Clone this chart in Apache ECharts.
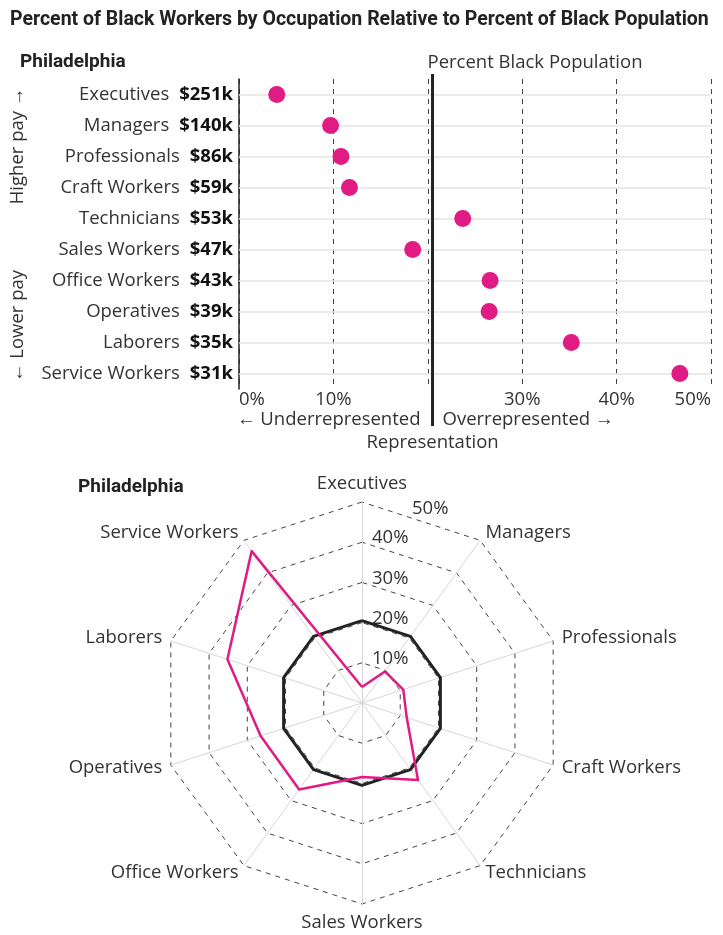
<!DOCTYPE html>
<html>
<head>
<meta charset="utf-8">
<script src="https://cdn.jsdelivr.net/npm/echarts@6/dist/echarts.min.js"></script>
<style>
  html, body { margin: 0; padding: 0; background: #fff; }
  #chart { width: 723px; height: 935px; }
</style>
</head>
<body>
<div id="chart"></div>
<script>
// Philadelphia occupations, highest pay first
const occupations = ['Executives', 'Managers', 'Professionals', 'Craft Workers', 'Technicians',
    'Sales Workers', 'Office Workers', 'Operatives', 'Laborers', 'Service Workers'];
const salaries = ['$251k', '$140k', '$86k', '$59k', '$53k', '$47k', '$43k', '$39k', '$35k', '$31k'];
const blackShare = [4.0, 9.7, 10.8, 11.7, 23.7, 18.4, 26.6, 26.5, 35.2, 46.7];
const popShare = 20.5;
const pctTicks = [0, 10, 20, 30, 40, 50];

const PINK = '#e01b84';
const TEXT = '#333';
const FONT = "'Open Sans', sans-serif";
const BOLD = "'Roboto', sans-serif";
const FS = 18.5;

const chart = echarts.init(document.getElementById('chart'));

// radar goes counter-clockwise, so feed it in reverse after the first one
const radarOrder = [0].concat(occupations.map((_, i) => i).slice(1).reverse());

const option = {
    animation: false,
    textStyle: { fontFamily: FONT },
    title: [
        {
            text: 'Percent of Black Workers by Occupation Relative to Percent of Black Population',
            left: 5, top: 5,
            textStyle: { fontFamily: BOLD, fontWeight: 'bold', fontSize: 19.5, color: '#222' }
        },
        {
            text: 'Philadelphia', left: 15, top: 48,
            textStyle: { fontFamily: BOLD, fontWeight: 'bold', fontSize: 19, color: '#222' }
        },
        {
            text: 'Philadelphia', left: 73, top: 473,
            textStyle: { fontFamily: BOLD, fontWeight: 'bold', fontSize: 19, color: '#222' }
        }
    ],
    grid: { left: 239, top: 79, width: 472, height: 310 },
    xAxis: {
        type: 'value',
        min: pctTicks[0], max: pctTicks[pctTicks.length - 1], interval: 10,
        axisLine: { show: false },
        axisTick: { show: false },
        splitLine: { show: true, lineStyle: { color: '#444', type: [5, 5], width: 1 } },
        axisLabel: {
            color: TEXT, fontSize: FS, margin: 1,
            alignMinLabel: 'left', alignMaxLabel: 'right',
            formatter: v => (v === 20 ? '' : v + '%')
        }
    },
    yAxis: {
        type: 'category',
        data: occupations,
        inverse: true,
        axisLine: { show: true, lineStyle: { color: '#222', width: 1.5 } },
        axisTick: { show: false },
        splitLine: { show: false },
        axisLabel: {
            margin: 6,
            formatter: (v, i) => '{n|' + v + '}{s|' + salaries[i] + '}',
            rich: {
                n: { color: TEXT, fontSize: FS, fontFamily: FONT, padding: [0, 10, 0, 0] },
                s: { color: '#111', fontSize: FS, fontWeight: 'bold', fontFamily: FONT }
            }
        }
    },
    radar: {
        center: [362, 703],
        radius: 201,
        startAngle: 90,
        shape: 'polygon',
        splitNumber: 5,
        indicator: radarOrder.map(i => ({ name: occupations[i], min: 0, max: 50 })),
        axisName: { color: TEXT, fontSize: FS, fontFamily: FONT },
        nameGap: 9,
        axisLine: { lineStyle: { color: '#d6d6d6', width: 1 } },
        splitLine: { lineStyle: { color: '#444', type: [5, 5], width: 1 } },
        splitArea: { show: false }
    },
    polar: { center: [362, 703], radius: 201 },
    angleAxis: {
        startAngle: 90, min: 0, max: 360,
        axisLine: { show: false }, axisTick: { show: false },
        axisLabel: { show: false }, splitLine: { show: false }
    },
    radiusAxis: {
        min: 0, max: 50, interval: 10,
        axisLine: { show: false }, axisTick: { show: false },
        splitLine: { show: false },
        axisLabel: {
            color: TEXT, fontSize: FS,
            align: 'left', margin: -10,
            padding: [0, 0, 8, 0],
            formatter: v => (v === 0 ? '' : v === 50 ? '{f|' + v + '%}' : v + '%'),
            rich: { f: { fontSize: FS, color: TEXT, padding: [22, 0, 0, 40] } }
        }
    },
    series: [
        {
            type: 'scatter',
            data: blackShare.map((v, i) => [v, occupations[i]]),
            symbolSize: 17,
            itemStyle: { color: PINK, opacity: 1 },
            z: 5,
            markLine: {
                silent: true,
                symbol: 'none',
                label: { show: false },
                lineStyle: { color: '#e4e4e4', type: 'solid', width: 1.5 },
                data: occupations.map(o => ({ yAxis: o })),
                z: 1
            }
        },
        {
            type: 'radar',
            symbol: 'none',
            data: [
                {
                    value: radarOrder.map(() => popShare),
                    lineStyle: { color: '#222', width: 3 }
                },
                {
                    value: radarOrder.map(i => blackShare[i]),
                    lineStyle: { color: PINK, width: 2.5 }
                }
            ]
        }
    ]
};

chart.setOption(option);

// the population line sits past the grid, so place it with the axis scale
const px = chart.convertToPixel({ xAxisIndex: 0 }, popShare);
const lbl = { fill: TEXT, fontSize: FS, fontFamily: FONT };
chart.setOption({
    graphic: [
        { type: 'line', shape: { x1: px, y1: 74, x2: px, y2: 426 }, style: { stroke: '#222', lineWidth: 3 }, z: 10 },
        { type: 'text', x: px - 5, y: 63, style: Object.assign({ text: 'Percent Black Population', verticalAlign: 'middle' }, lbl) },
        { type: 'text', x: px - 12, y: 420, style: Object.assign({ text: '← Underrepresented', align: 'right', verticalAlign: 'middle' }, lbl) },
        { type: 'text', x: px + 10, y: 420, style: Object.assign({ text: 'Overrepresented →', align: 'left', verticalAlign: 'middle' }, lbl) },
        { type: 'text', x: px, y: 443, style: Object.assign({ text: 'Representation', align: 'center', verticalAlign: 'middle' }, lbl) },
        { type: 'text', x: 18, y: 146, rotation: Math.PI / 2, style: Object.assign({ text: 'Higher pay →', align: 'center', verticalAlign: 'middle' }, lbl) },
        { type: 'text', x: 18, y: 326, rotation: Math.PI / 2, style: Object.assign({ text: '← Lower pay', align: 'center', verticalAlign: 'middle' }, lbl) }
    ]
});
</script>
</body>
</html>
